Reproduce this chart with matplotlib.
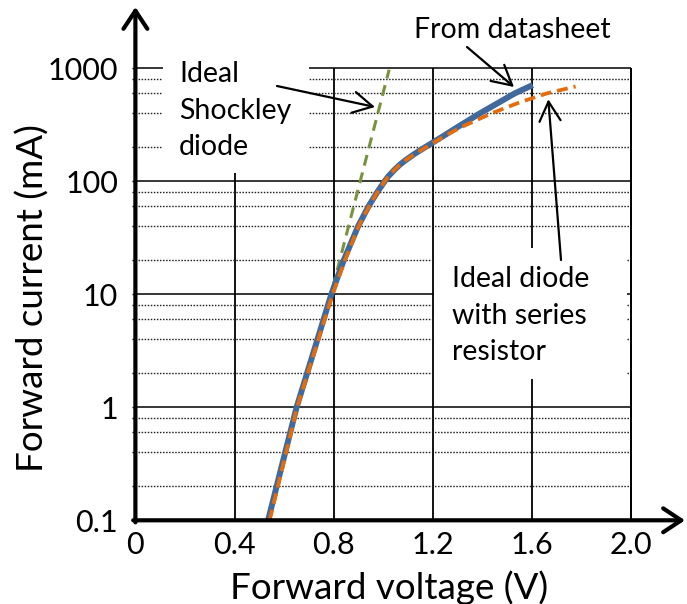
import matplotlib
matplotlib.use('Agg')
import matplotlib.pyplot as plt
from matplotlib.patches import Rectangle
from matplotlib.ticker import NullFormatter

plt.rcParams['font.family'] = ['Lato', 'DejaVu Sans']

# ---- data ----
x_ticks = [0, 0.4, 0.8, 1.2, 1.6, 2.0]
x_tick_labels = ['0', '0.4', '0.8', '1.2', '1.6', '2.0']
y_ticks = [0.1, 1, 10, 100, 1000]
y_tick_labels = ['0.1', '1', '10', '100', '1000']
minor_mult = [2, 4, 6, 8]

datasheet_v = [0.535, 0.596, 0.650, 0.790, 0.840, 0.898, 0.940, 0.975,
               1.005, 1.019, 1.044, 1.066, 1.090, 1.126, 1.168, 1.240, 1.297,
               1.390, 1.530, 1.602]
datasheet_i = [0.1, 0.34, 1, 10, 20, 40, 60, 80,
               100, 110, 126, 140, 154, 175, 200, 250, 300,
               400, 600, 711]

resistor_v = [0.541, 0.652, 0.795, 0.845, 0.900, 0.942, 0.976, 1.005, 1.019,
              1.044, 1.066, 1.090, 1.128, 1.172, 1.245, 1.312, 1.437, 1.550,
              1.660, 1.775]
resistor_i = [0.1, 1, 10, 20, 40, 60, 80, 100, 110,
              126, 140, 154, 175, 200, 250, 300, 400, 500,
              600, 690]

shockley_v = [0.777, 1.023]
shockley_i = [8, 970]

W, H = 687, 604
fig = plt.figure(figsize=(W / 100, H / 100), dpi=100)
ax = fig.add_axes([135.4 / W, 1 - 520.3 / H, 549.6 / W, 513.3 / H])
ax.set_yscale('log')
ax.set_xlim(0, 2.216)
ax.set_ylim(0.1, 3484)
for s in ax.spines.values():
    s.set_visible(False)
ax.patch.set_visible(False)

# ---- grid ----
ax.vlines(x_ticks[1:], 0.1, 1000, color='black', lw=1.3, zorder=1)
ax.hlines(y_ticks[1:], 0, 2.0, color='black', lw=1.1, zorder=1)
minor_vals = [m * d for d in [0.1, 1, 10, 100] for m in minor_mult]
ax.hlines(minor_vals, 0, 2.0, color='#222222', lw=1.0,
          linestyles=(0, (1.1, 1.1)), zorder=1)

# ---- white boxes behind the labels (break the grid) ----
ax.add_patch(Rectangle((0.111, 118), 0.589, 1500 - 118, facecolor='white',
                       edgecolor='none', zorder=2))
ax.add_patch(Rectangle((1.205, 1.77), 1.984 - 1.205, 25.7 - 1.77,
                       facecolor='white', edgecolor='none', zorder=2))
# right border line of the grid stays visible
ax.vlines([x_ticks[-1]], 0.1, 1000, color='black', lw=1.3, zorder=2.5)

# ---- ticks ----
ax.set_xticks(x_ticks, x_tick_labels)
ax.set_yticks(y_ticks, y_tick_labels)
ax.set_yticks(minor_vals, minor=True)
ax.yaxis.set_minor_formatter(NullFormatter())
ax.tick_params(axis='x', which='both', length=0, pad=8, labelsize=22)
ax.tick_params(axis='y', which='both', direction='out', length=2.5, width=1,
               pad=10, labelsize=22)

# ---- curves ----
ax.plot(shockley_v, shockley_i, color='#77933C', lw=2.2, dashes=(3.6, 2.3),
        zorder=3)
ax.plot(datasheet_v, datasheet_i, color='#41699B', lw=4.3,
        solid_capstyle='butt', solid_joinstyle='round', zorder=4)
ax.plot(resistor_v, resistor_i, color='#E46C0A', lw=2.7, dashes=(2.9, 1.6),
        zorder=5)

# ---- axis arrows ----
axis_arrow = dict(arrowstyle='->,head_length=0.65,head_width=0.43', lw=3,
                  color='black', shrinkA=0, shrinkB=0, mutation_scale=20)
ax.annotate('', xy=(0, 1), xycoords='axes fraction', xytext=(0, -0.004),
            textcoords='axes fraction', arrowprops=axis_arrow, zorder=6)
ax.annotate('', xy=(1, 0), xycoords='axes fraction', xytext=(-0.004, 0),
            textcoords='axes fraction', arrowprops=axis_arrow, zorder=6)

# ---- annotation text ----
def ftext(px, py, s, **kw):
    fig.text(px / W, 1 - py / H, s, fontsize=20.5, ha='left', va='baseline',
             zorder=7, **kw)

for txt, yb in zip(['Ideal', 'Shockley', 'diode'], [81.7, 118.5, 155]):
    ftext(179, yb, txt)
ftext(414, 38.3, 'From datasheet')
for txt, yb in zip(['Ideal diode', 'with series', 'resistor'], [287.3, 323.5, 360]):
    ftext(452, yb, txt)

note_arrow = dict(arrowstyle='->,head_length=0.7,head_width=0.38', lw=1.6,
                  color='black', shrinkA=0, shrinkB=0, mutation_scale=20)
for (tx, ty), (hx, hy) in [((277, 86), (375, 107)),
                           ((467, 47), (514, 87)),
                           ((561, 260), (548.3, 99.3))]:
    ax.annotate('', xy=(hx, H - hy), xycoords='figure pixels',
                xytext=(tx, H - ty), textcoords='figure pixels',
                arrowprops=note_arrow, zorder=7)

# ---- axis titles ----
fig.text(389.5 / W, 1 - 599 / H, 'Forward voltage (V)', fontsize=26.5,
         ha='center', va='baseline')
fig.text(33 / W, 1 - 298 / H, 'Forward current (mA)', fontsize=26.5,
         ha='center', va='center', rotation=90)

fig.savefig('out.png', dpi=100)
